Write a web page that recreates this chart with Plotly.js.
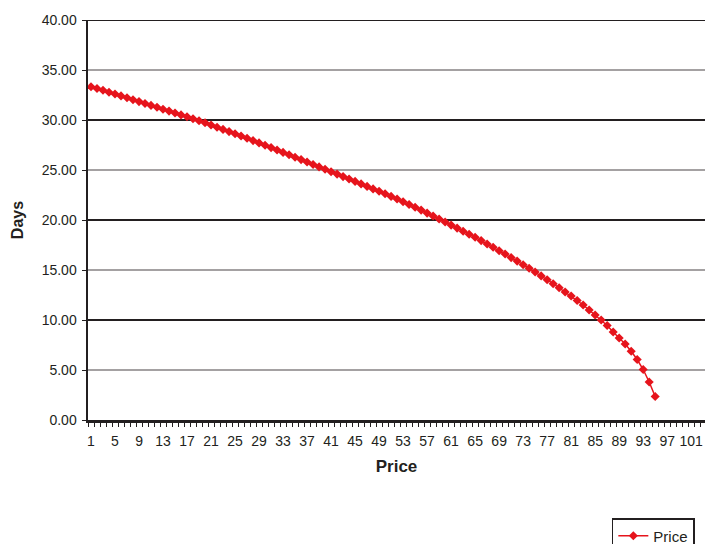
<!DOCTYPE html>
<html>
<head>
<meta charset="utf-8">
<script src="https://cdn.plot.ly/plotly-3.0.1.min.js"></script>
<style>html,body{margin:0;padding:0;background:#fff}#chart{width:705px;height:544px}</style>
</head>
<body>
<div id="chart"></div>
<script>
const prices = [1,2,3,4,5,6,7,8,9,10,11,12,13,14,15,16,17,18,19,20,21,22,23,24,25,26,27,28,29,30,31,32,33,34,35,36,37,38,39,40,41,42,43,44,45,46,47,48,49,50,51,52,53,54,55,56,57,58,59,60,61,62,63,64,65,66,67,68,69,70,71,72,73,74,75,76,77,78,79,80,81,82,83,84,85,86,87,88,89,90,91,92,93,94,95];
const days = [33.33,33.15,32.97,32.78,32.60,32.41,32.22,32.03,31.84,31.65,31.46,31.27,31.08,30.89,30.70,30.51,30.32,30.12,29.93,29.72,29.50,29.28,29.06,28.84,28.62,28.40,28.17,27.94,27.71,27.48,27.24,27.00,26.76,26.52,26.28,26.04,25.80,25.55,25.31,25.07,24.83,24.59,24.34,24.10,23.86,23.61,23.36,23.11,22.87,22.62,22.36,22.10,21.83,21.55,21.28,20.99,20.69,20.40,20.10,19.80,19.49,19.19,18.88,18.58,18.27,17.94,17.60,17.27,16.93,16.60,16.24,15.89,15.53,15.17,14.80,14.41,14.02,13.63,13.22,12.80,12.40,11.95,11.50,11.00,10.50,10.00,9.45,8.80,8.20,7.60,6.88,6.05,5.05,3.80,2.35];
const xTickVals = [1,5,9,13,17,21,25,29,33,37,41,45,49,53,57,61,65,69,73,77,81,85,89,93,97,101];
const yTickVals = [0,5,10,15,20,25,30,35,40];
const majorGrid = [10,20,30,40];
const minorGrid = [5,15,25,35];
const seriesName = 'Price';

const txt = '#231f20';
const red = '#e6141c';
const font = 'Liberation Sans, Arial, Helvetica, sans-serif';

const shapes = minorGrid.map(v => ({
  type:'line', xref:'paper', yref:'y', x0:0, x1:1, y0:v, y1:v,
  line:{color:'#4a4446', width:1.2}, layer:'below'
})).concat(majorGrid.map(v => ({
  type:'line', xref:'paper', yref:'y', x0:0, x1:1, y0:v, y1:v,
  line:{color:'#231f20', width:2}, layer:'below'
})));

Plotly.newPlot('chart', [{
  x: prices, y: days, name: seriesName, type:'scatter', mode:'lines+markers',
  line:{color:red, width:1.5},
  marker:{symbol:'diamond', size:7, color:red}
}], {
  width:705, height:544,
  margin:{l:88, r:0, t:20, b:124, autoexpand:false},
  paper_bgcolor:'#fff', plot_bgcolor:'#fff',
  font:{family:font, color:txt, size:14},
  showlegend:true,
  legend:{x:0.849, y:-0.245, xanchor:'left', yanchor:'top', bordercolor:'#231f20', borderwidth:1.5,
          font:{size:15, color:txt}, bgcolor:'#fff', itemwidth:30, tracegroupgap:0},
  xaxis:{
    range:[0.5,103.3], tickmode:'array', tickvals:xTickVals, ticks:'',
    showgrid:false, zeroline:false, showline:true, linecolor:'#231f20', linewidth:2.5,
    tickfont:{size:14, color:txt}, ticklabelstandoff:7,
    minor:{ticks:'outside', tick0:0.5, dtick:1, ticklen:4, tickcolor:'#231f20', tickwidth:1, showgrid:false},
    title:{text:'Price', font:{size:17, color:txt, weight:'bold'}, standoff:12}
  },
  yaxis:{
    range:[0,40], tickmode:'array', tickvals:yTickVals, tickformat:'.2f',
    ticks:'outside', ticklen:4, tickcolor:'#231f20',
    showgrid:false, zeroline:false,
    showline:true, linecolor:'#231f20', linewidth:2.5,
    tickfont:{size:14, color:txt}, ticklabelstandoff:2,
    title:{text:'Days', font:{size:16, color:txt, weight:'bold'}, standoff:14}
  },
  shapes: shapes
}, {displayModeBar:false, staticPlot:true});
</script>
</body>
</html>
